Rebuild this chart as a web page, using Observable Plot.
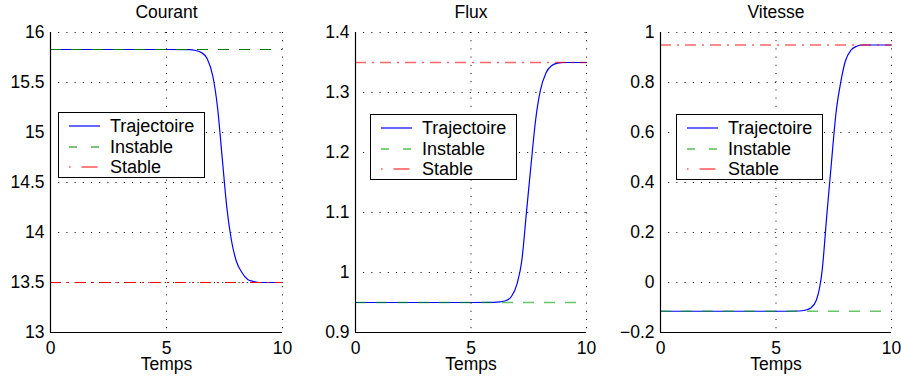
<!DOCTYPE html>
<html><head><meta charset="utf-8">
<script src="https://cdn.jsdelivr.net/npm/d3@7"></script>
<script src="https://cdn.jsdelivr.net/npm/@observablehq/plot@0.6"></script>
<style>
body{margin:0;background:#fff;}
#wrap{position:relative;width:901px;height:381px;font-family:"Liberation Sans",Arial,Helvetica,sans-serif;}
.panel{position:absolute;top:0;}
.legend{position:absolute;}
</style></head><body><div id="wrap"></div><script>
const temps   = [0, 5, 6, 6.25, 6.5, 6.75, 7, 7.2, 7.4, 7.6, 7.8, 8, 8.25, 8.5, 8.75, 9, 10];
const courant = [15.83, 15.83, 15.828, 15.82, 15.80, 15.74, 15.56, 15.25, 14.75, 14.25, 13.92, 13.72, 13.60, 13.53, 13.51, 13.50, 13.50];
const flux    = [0.95, 0.95, 0.9502, 0.951, 0.953, 0.96, 0.982, 1.02, 1.10, 1.18, 1.255, 1.303, 1.333, 1.345, 1.349, 1.35, 1.35];
const vitesse = [-0.115, -0.115, -0.114, -0.111, -0.102, -0.07, 0.05, 0.27, 0.48, 0.68, 0.80, 0.885, 0.93, 0.945, 0.95, 0.95, 0.95];
const instable = [15.83, 0.95, -0.115];
const stable   = [13.5, 1.35, 0.95];
const titles = ["Courant", "Flux", "Vitesse"];
const xTicks = [0, 5, 10];
const courantTicks = [13, 13.5, 14, 14.5, 15, 15.5, 16];
const fluxTicks = [0.9, 1, 1.1, 1.2, 1.3, 1.4];
const vitesseTicks = [-0.2, 0, 0.2, 0.4, 0.6, 0.8, 1];
const legendLabels = ["Trajectoire", "Instable", "Stable"];
const xLabel = "Temps";

const FONT = '"Liberation Sans", Arial, Helvetica, sans-serif';
const series = [courant, flux, vitesse];
const yTicksAll = [courantTicks, fluxTicks, vitesseTicks];
const layout = [
  {left: 0,   width: 300, ml: 50, mr: 18, lgLeft: 58,  lgTop: 112, dashOp: 1,   dashW: 1.1, green: "#007f00"},
  {left: 300, width: 300, ml: 55, mr: 14, lgLeft: 70,  lgTop: 114, dashOp: 0.6, dashW: 1.6, green: "#00a000"},
  {left: 600, width: 301, ml: 60, mr: 10, lgLeft: 76,  lgTop: 114, dashOp: 0.6, dashW: 1.6, green: "#00a000"}
];
const BLUE = "#0000ff", RED = "#ff0000";
const DASH = "11,10", DASHDOT = "11,6,2,6";
const fmt = d => String(d).replace("-", "\u2212");
const wrap = document.getElementById("wrap");

series.forEach((vals, i) => {
  const L = layout[i];
  const yt = yTicksAll[i];
  const data = temps.map((t, k) => ({t, v: vals[k]}));
  const chart = Plot.plot({
    width: L.width, height: 381,
    marginTop: 32, marginBottom: 49, marginLeft: L.ml, marginRight: L.mr,
    x: {domain: [xTicks[0], xTicks[xTicks.length - 1]]},
    y: {domain: [yt[0], yt[yt.length - 1]]},
    style: {fontFamily: FONT, fontSize: "17.5px", background: "transparent", overflow: "visible", color: "#000"},
    marks: [
      Plot.gridX(xTicks, {stroke: "#000", strokeOpacity: 1, strokeWidth: 1, strokeDasharray: "1,7.2"}),
      Plot.gridY(yt, {stroke: "#000", strokeOpacity: 1, strokeWidth: 1, strokeDasharray: "1,7.2"}),
      Plot.line(data, {x: "t", y: "v", stroke: BLUE, strokeWidth: 1.2, curve: "monotone-x"}),
      Plot.ruleY([instable[i]], {stroke: L.green, strokeWidth: L.dashW, strokeOpacity: L.dashOp, strokeDasharray: DASH}),
      Plot.ruleY([stable[i]], {stroke: RED, strokeWidth: L.dashW, strokeOpacity: L.dashOp, strokeDasharray: DASHDOT}),
      Plot.ruleX([xTicks[0]], {stroke: "#000", strokeWidth: 1.2}),
      Plot.ruleY([yt[0]], {stroke: "#000", strokeWidth: 1.2}),
      Plot.axisX(xTicks, {tickSize: 0, tickPadding: 9, fontSize: 17.5, label: null, tickFormat: fmt}),
      Plot.axisY(yt, {tickSize: 0, tickPadding: 6, fontSize: 17.5, label: null, tickFormat: fmt}),
      Plot.text([titles[i]], {text: d => d, frameAnchor: "top", dy: -20, fontSize: 17.5, lineAnchor: "middle"}),
      Plot.text([xLabel], {text: d => d, frameAnchor: "bottom", dy: 31.5, fontSize: 17.5, lineAnchor: "middle"})
    ]
  });
  chart.classList.add("panel");
  chart.style.left = L.left + "px";
  wrap.appendChild(chart);

  // legend
  const W = 147, H = 66;
  const svg = d3.create("svg").attr("class", "legend").attr("width", W).attr("height", H)
    .style("left", (L.left + L.lgLeft) + "px").style("top", L.lgTop + "px");
  svg.append("rect").attr("x", 0.5).attr("y", 0.5).attr("width", W - 1).attr("height", H - 1)
    .attr("fill", "#fff").attr("stroke", "#000").attr("stroke-width", 1);
  const rows = [
    {c: BLUE, d: null, y: 14},
    {c: L.green, d: "8,14", y: 35},
    {c: RED, d: "1.5,11,16,10", y: 55}
  ];
  rows.forEach((r, k) => {
    svg.append("line").attr("x1", 11).attr("x2", 42).attr("y1", r.y).attr("y2", r.y)
      .attr("stroke", r.c).attr("stroke-width", 1.2).attr("stroke-dasharray", r.d);
    svg.append("text").attr("x", 52).attr("y", r.y).attr("dy", "0.36em")
      .attr("font-family", FONT).attr("font-size", 18).attr("fill", "#000").text(legendLabels[k]);
  });
  wrap.appendChild(svg.node());
});
</script></body></html>
